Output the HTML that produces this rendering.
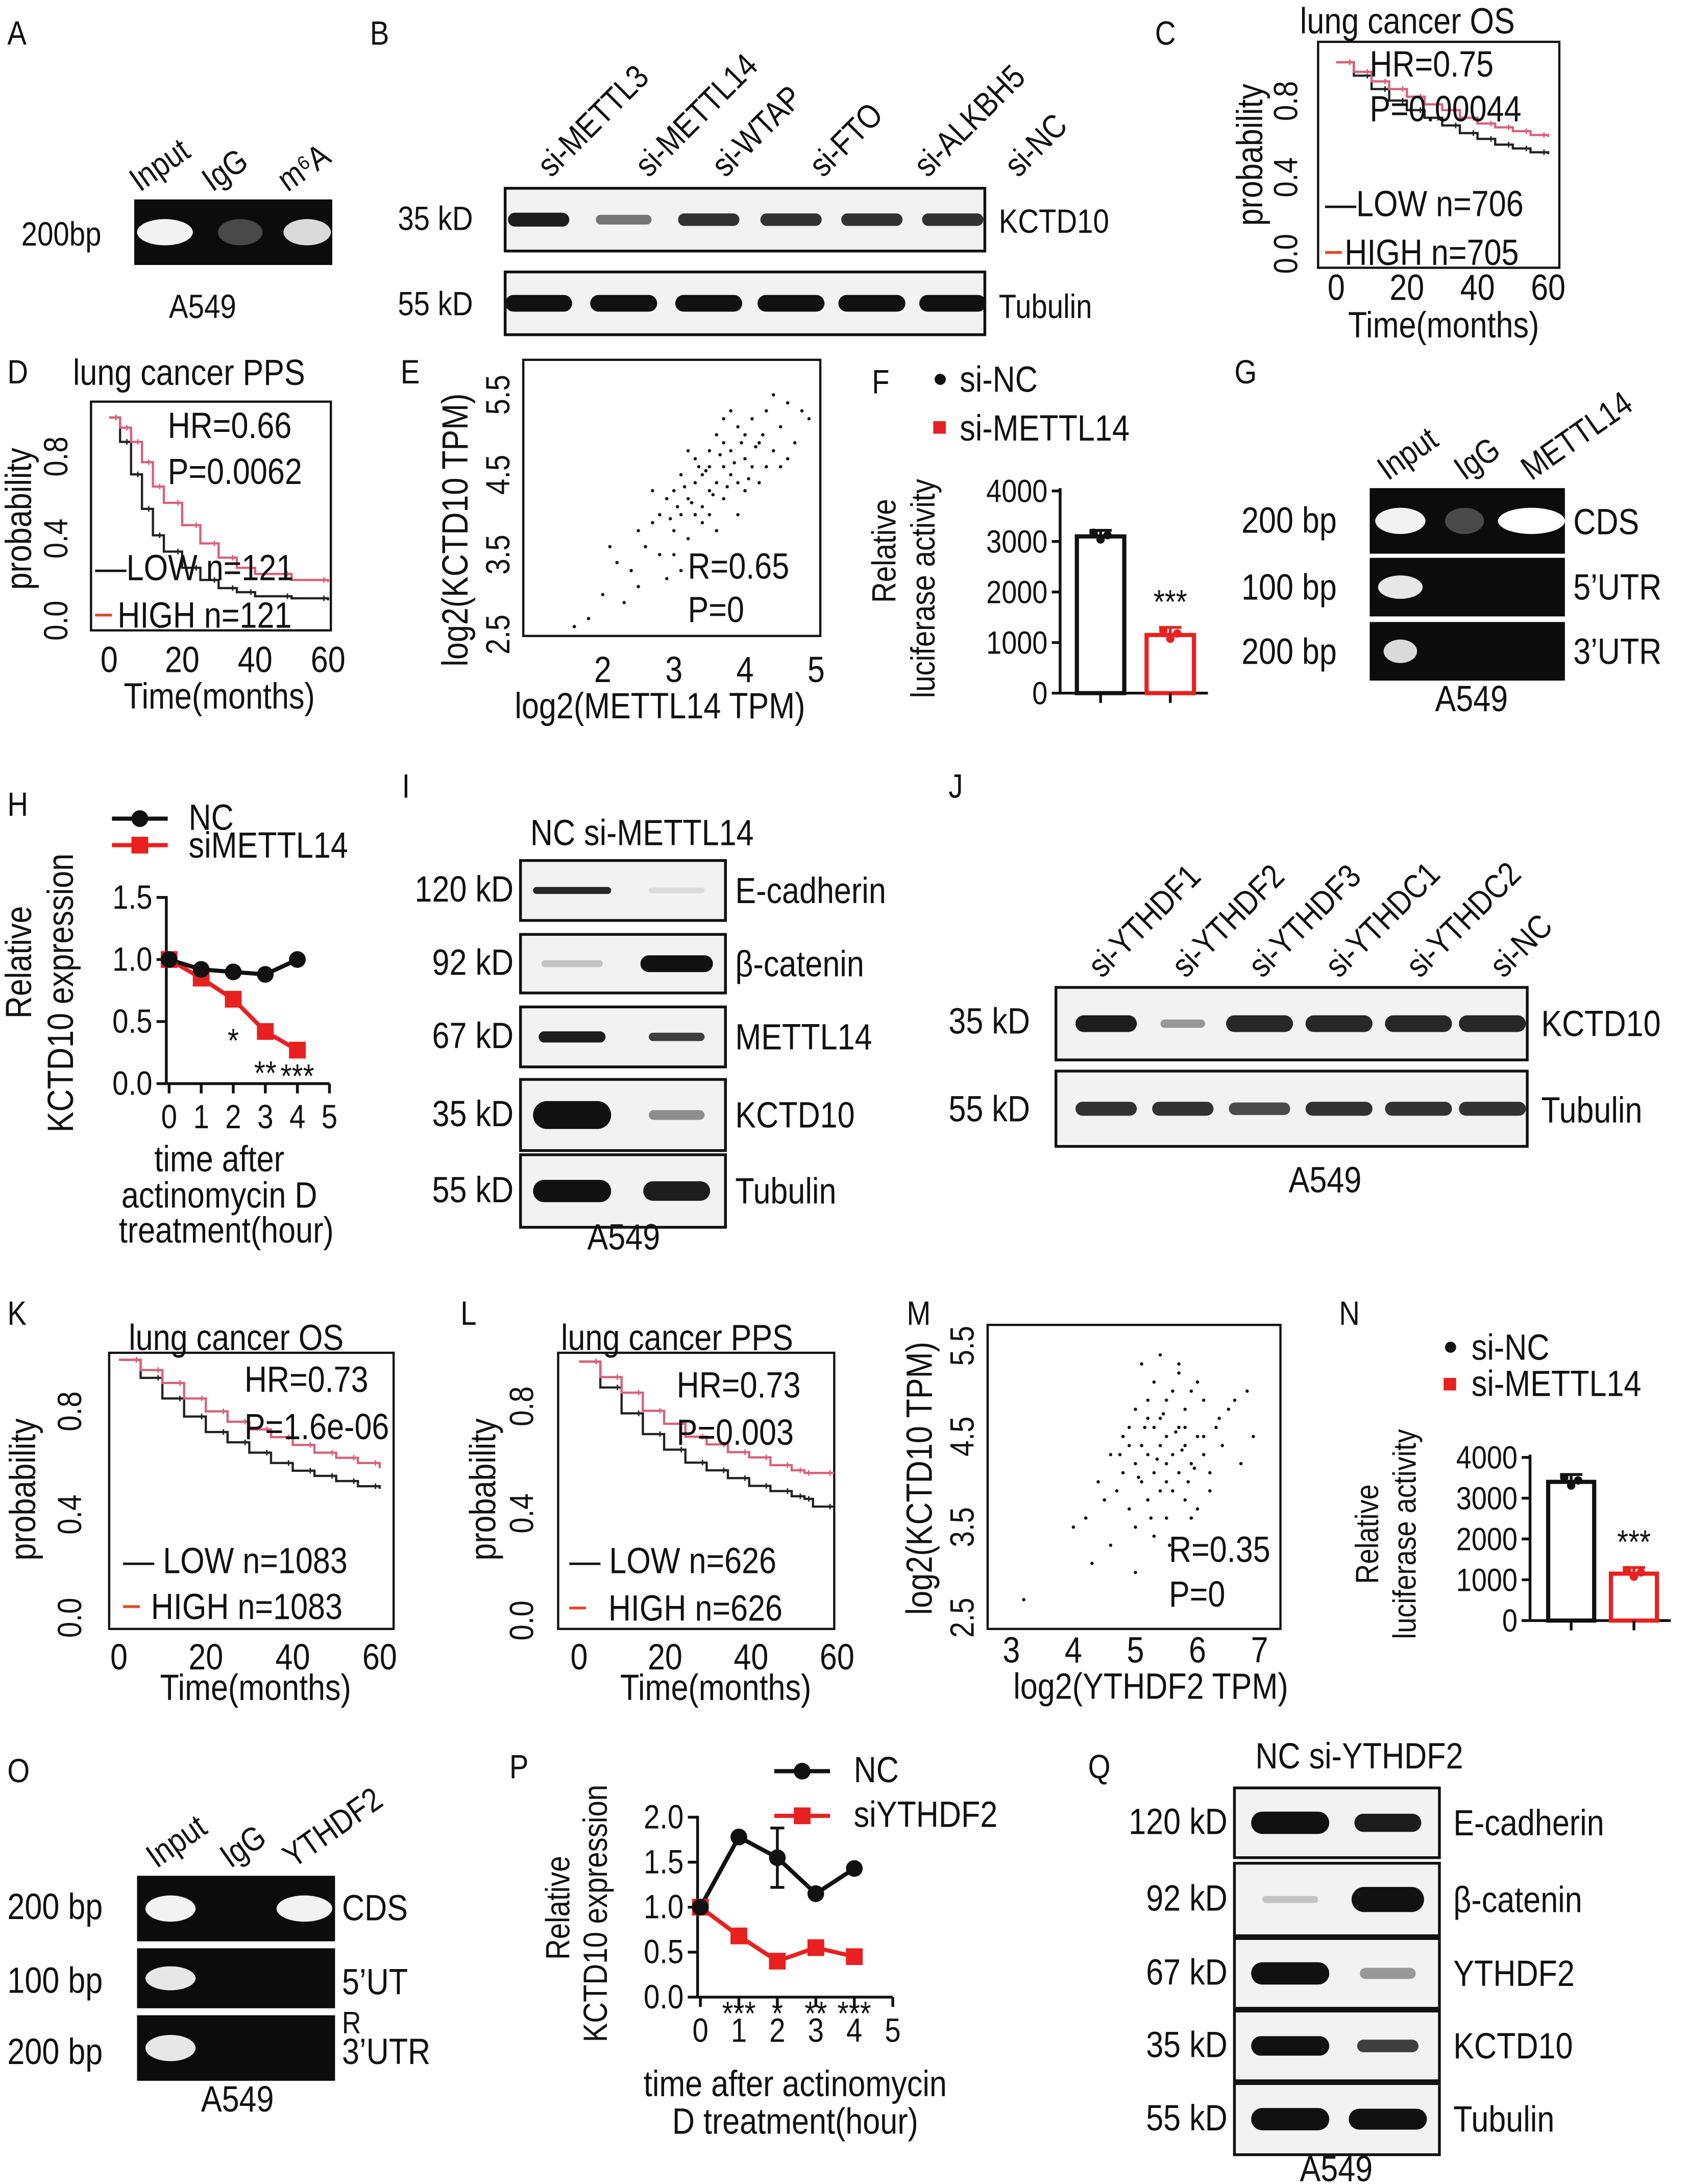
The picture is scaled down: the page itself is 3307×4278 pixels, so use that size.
<!DOCTYPE html>
<html><head><meta charset="utf-8"><title>Figure</title>
<style>
html,body{margin:0;padding:0;background:#fff;}
svg{display:block;}
text{font-family:"Liberation Sans Narrow","Liberation Sans",sans-serif;fill:#111;}
</style></head>
<body>
<svg id="fig" xmlns="http://www.w3.org/2000/svg" width="3307" height="4278" viewBox="0 0 1210 1566">
<rect x="0" y="0" width="1210" height="1566" fill="#fff"/>
</svg>
<script>
// ===== chart data =====
const kmC_t=[0,5,10,15,20,25,30,35,40,45,50,55,60];
const kmC_low=[1,0.93,0.86,0.8,0.75,0.71,0.67,0.63,0.6,0.57,0.55,0.53,0.52];
const kmC_high=[1,0.95,0.9,0.86,0.82,0.78,0.75,0.71,0.68,0.66,0.64,0.62,0.61];
const kmD_t=[0,3,6,9,12,15,20,25,30,35,40,50,60];
const kmD_low=[1,0.88,0.72,0.55,0.42,0.34,0.26,0.2,0.16,0.14,0.12,0.11,0.1];
const kmD_high=[1,0.95,0.88,0.78,0.66,0.58,0.47,0.38,0.31,0.26,0.23,0.2,0.19];
const kmK_t=[0,5,10,15,20,25,30,35,40,45,50,55,60];
const kmK_low=[1,0.93,0.85,0.78,0.72,0.68,0.64,0.6,0.57,0.55,0.53,0.51,0.5];
const kmK_high=[1,0.96,0.91,0.85,0.8,0.76,0.73,0.7,0.67,0.64,0.62,0.6,0.58];
const kmL_t=[0,5,10,15,20,25,30,35,40,45,50,53,55,60];
const kmL_low=[1,0.9,0.8,0.72,0.66,0.61,0.58,0.55,0.52,0.5,0.48,0.47,0.44,0.44];
const kmL_high=[1,0.94,0.88,0.81,0.76,0.71,0.68,0.65,0.63,0.6,0.58,0.57,0.57,0.57];
const scE_x=[2.0,2.2,2.4,2.5,2.6,2.7,2.8,2.8,2.9,3.0,3.0,3.1,3.1,3.2,3.2,3.3,3.3,3.4,3.4,3.5,3.5,3.5,3.6,3.6,3.7,3.7,3.8,3.8,3.9,3.9,4.0,4.0,4.1,4.1,4.2,4.2,4.3,4.4,4.5,4.6,4.7,4.8,3.0,2.9,3.4,3.6,3.2,3.9,4.0,3.3,3.7,4.3,2.5,1.8,2.3,3.5,3.8,4.4,2.7,3.1,3.45,3.55,3.65,3.75,3.85,4.05,4.15,3.25,3.15,2.95,4.25,4.6,4.9,1.6,2.1,3.95,3.35,3.05,4.5,3.7];
const scE_y=[3.0,3.4,3.3,3.8,3.6,3.9,4.0,3.5,4.2,3.8,4.3,4.0,4.5,4.2,3.7,4.4,4.7,4.1,4.5,4.8,4.3,4.6,4.4,5.0,4.6,4.2,4.8,4.5,5.1,4.4,4.7,5.0,4.6,5.2,4.9,4.4,5.3,4.8,5.1,5.4,4.9,5.3,3.5,3.2,3.9,3.8,4.8,4.0,4.3,4.0,5.2,4.6,3.1,2.7,2.9,4.0,5.3,5.5,4.3,3.3,4.55,4.25,4.75,4.35,4.65,4.45,4.85,4.15,4.35,3.95,5.0,4.7,5.2,2.6,3.6,4.9,4.6,4.1,4.6,4.9];
const scM_x=[4.2,4.4,4.5,4.6,4.7,4.8,4.8,4.9,4.9,5.0,5.0,5.0,5.1,5.1,5.2,5.2,5.2,5.3,5.3,5.3,5.4,5.4,5.4,5.5,5.5,5.5,5.5,5.6,5.6,5.6,5.7,5.7,5.7,5.8,5.8,5.8,5.9,5.9,6.0,6.0,6.1,6.1,6.2,6.3,6.4,6.5,6.7,6.9,4.3,4.6,5.0,5.3,5.6,5.9,6.2,5.1,5.4,5.7,6.0,4.9,5.2,5.5,5.8,6.1,5.35,5.65,5.45,5.75,5.05,5.95,6.6,4.0,3.2,6.8,5.25,5.55,5.85,4.75,6.35,5.15];
const scM_y=[3.6,4.0,3.8,4.3,3.9,4.5,4.1,3.7,4.6,4.2,4.8,3.5,4.4,4.0,4.9,4.3,3.8,4.6,4.1,5.1,4.4,3.9,4.7,4.2,4.9,3.6,4.5,4.3,5.0,3.9,4.6,4.1,5.2,4.4,3.8,4.8,4.2,5.0,4.5,3.7,4.3,4.9,4.1,4.6,4.4,4.8,4.2,4.5,3.1,3.3,3.0,3.4,3.2,3.6,3.9,5.3,5.4,5.3,5.1,4.4,4.7,4.0,4.6,4.5,4.25,4.55,4.75,4.35,4.05,4.15,4.9,3.5,2.7,5.0,3.6,3.3,4.0,4.3,4.7,4.6];
const hTime=[0,1,2,3,4];
const hNC=[1.0,0.92,0.9,0.88,1.0];
const hSi=[1.0,0.85,0.68,0.42,0.27];
const hStars=['','','*','**','***'];
const pTime=[0,1,2,3,4];
const pNC=[1.0,1.78,1.55,1.15,1.43];
const pNCerr=[0,0,0.33,0,0];
const pSi=[1.0,0.68,0.4,0.55,0.45];
const pStars=['','***','*','**','***'];
const fGroups=['si-NC','si-METTL14'];
const fVals=[3100,1150];
const fErr=[120,150];
const nVals=[3400,1150];
const nErr=[180,150];
const barTicks=[0,1000,2000,3000,4000];

// ===== helpers =====
const NS='http://www.w3.org/2000/svg';
const svg=document.getElementById('fig');
const SX=0.86;
function el(tag,a,name,parent){
  const e=document.createElementNS(NS,tag);
  for(const k in a) e.setAttribute(k,a[k]);
  
  
  (parent||svg).appendChild(e);
  return e;
}
function tx(x,y,s,size,name,opt){
  opt=opt||{};
  const a={x:0,y:0,'font-size':size};
  if(opt.anchor) a['text-anchor']=opt.anchor;
  let tr='translate('+x+' '+y+')';
  if(opt.rot!==undefined) tr+=' rotate('+opt.rot+')';
  tr+=' scale('+SX+' 1)';
  a.transform=tr;
  if(opt.fill) a.style='fill:'+opt.fill;
  const e=el('text',a,name);
  e.textContent=s;
  return e;
}
function line(x1,y1,x2,y2,name,w,c){return el('line',{x1:x1,y1:y1,x2:x2,y2:y2,stroke:c||'#111','stroke-width':w||2},name);}
function panelLetter(x,y,s){tx(x,y,s,24,'panel-label-'+s.toLowerCase());}

function gel(x,y,w,h,bands,name){
  el('rect',{x:x,y:y,width:w,height:h,fill:'#0c0c0c'},name);
  bands.forEach((b,i)=>{ if(b[2]>0) el('ellipse',{cx:b[0],cy:y+h/2,rx:b[1],ry:h*0.2,fill:'#fff',opacity:b[2]},name+'-band-'+i); });
}
function blot(x,y,w,h,bands,name){
  el('rect',{x:x,y:y,width:w,height:h,fill:'#f2f2f2',stroke:'#111','stroke-width':2},name);
  bands.forEach((b,i)=>{ if(b[2]>0) el('rect',{x:b[0]-b[1],y:y+h/2-b[3]/2,width:2*b[1],height:b[3],rx:b[3]/2,fill:'#111',opacity:b[2]},name+'-band-'+i); });
}

// ===== Panel A =====
panelLetter(5,32,'A');
gel(96,143,142,47,[[118,20,0.95],[172,16,0.25],[220,17,0.85]],'gel-a');
['Input','IgG','m⁶A'].forEach((s,i)=>tx([100,152,206][i],138,s,24,'lane-label-a',{rot:-35}));
tx(15,176,'200bp',24,'size-label-a');
tx(145,228,'A549',24,'cell-label-a',{anchor:'middle'});

// ===== Panel B =====
panelLetter(265,32,'B');
['si-METTL3','si-METTL14','si-WTAP','si-FTO','si-ALKBH5','si-NC'].forEach((s,i)=>tx([395,465,520,590,665,730][i],128,s,24,'lane-label-b',{rot:-45}));
blot(362,135,344,45,[[386,22,0.95,10],[447,20,0.55,7],[508,22,0.85,9],[567,22,0.85,9],[625,22,0.85,9],[683,22,0.85,9]],'blot-b-kctd10');
blot(362,195,344,45,[[386,24,1,12],[447,24,1,12],[508,24,1,12],[567,24,1,12],[625,24,1,12],[683,24,1,12]],'blot-b-tubulin');
tx(285,165,'35 kD',24,'kd-label');tx(285,226,'55 kD',24,'kd-label');
tx(716,167,'KCTD10',24,'protein-label');tx(716,228,'Tubulin',24,'protein-label');

function km(box,xr,yr,t,low,high,name){
  const X=v=>box.x0+(v-xr[0])/(xr[1]-xr[0])*(box.x1-box.x0);
  const Y=v=>box.y0+(1-(v-yr[0])/(yr[1]-yr[0]))*(box.y1-box.y0);
  [[low,'#222','low'],[high,'#d9607a','high']].forEach(s=>{
    let d='M'+X(t[0])+','+Y(s[0][0]);
    for(let i=1;i<t.length;i++){d+=' H'+X(t[i])+' V'+Y(s[0][i]);}
    el('path',{d:d,fill:'none',stroke:s[1],'stroke-width':1.6},name+'-curve-'+s[2]);
    for(let i=1;i<t.length;i++){ el('line',{x1:X(t[i])-3,x2:X(t[i])-3,y1:Y(s[0][i-1])-2,y2:Y(s[0][i-1])+2,stroke:s[1],'stroke-width':1},name+'-censor-'+s[2]); }
  });
  return {X:X,Y:Y};
}

// ===== Panel C =====
panelLetter(828,32,'C');
el('rect',{x:945,y:30,width:173,height:162,fill:'none',stroke:'#111','stroke-width':1.6},'km-c-frame');
km({x0:958,x1:1110,y0:35,y1:182},[0,60],[0,1.07],kmC_t,kmC_low,kmC_high,'km-c');
tx(932,24,'lung cancer  OS',26,'km-c-title');
tx(982,55,'HR=0.75',26,'km-c-hr');tx(982,87,'P=0.00044',26,'km-c-p');
tx(950,155,'—LOW  n=706',26,'legend-low');
line(950,181,962,181,'legend-high-swatch',2,'#e04a2a');
tx(964,190,'HIGH n=705',26,'legend-high');
[0,0.4,0.8].forEach(v=>tx(930,182-v*137,v.toFixed(1),24,'y-tick-c',{rot:-90,anchor:'middle'}));
tx(905,111,'probability',26,'y-axis-title-c',{rot:-90,anchor:'middle'});
[0,20,40,60].forEach(v=>tx(958+v*152/60,215,String(v),26,'x-tick-c',{anchor:'middle'}));
tx(1035,242,'Time(months)',26,'x-axis-title-c',{anchor:'middle'});

// ===== Panel D =====
panelLetter(5,275,'D');
el('rect',{x:65,y:288,width:172,height:164,fill:'none',stroke:'#111','stroke-width':1.6},'km-d-frame');
km({x0:78,x1:235,y0:295,y1:445},[0,60],[0,1.03],kmD_t,kmD_low,kmD_high,'km-d');
tx(52,276,'lung cancer  PPS',26,'km-d-title');
tx(120,314,'HR=0.66',26,'km-d-hr');tx(120,347,'P=0.0062',26,'km-d-p');
tx(68,416,'—LOW  n=121',26,'legend-low');
line(68,441,80,441,'legend-high-swatch',2,'#e04a2a');
tx(84,450,'HIGH n=121',26,'legend-high');
[0,0.4,0.8].forEach(v=>tx(48,445-v*147,v.toFixed(1),24,'y-tick-d',{rot:-90,anchor:'middle'}));
tx(22,372,'probability',26,'y-axis-title-d',{rot:-90,anchor:'middle'});
[0,20,40,60].forEach(v=>tx(78+v*157/60,482,String(v),26,'x-tick-d',{anchor:'middle'}));
tx(157,508,'Time(months)',26,'x-axis-title-d',{anchor:'middle'});

function scatter(xs,ys,X,Y,name){xs.forEach((v,i)=>el('circle',{cx:X(v),cy:Y(ys[i]),r:1.2,fill:'#111'},name+'-point'));}

// ===== Panel E =====
panelLetter(287,275,'E');
el('rect',{x:375,y:258,width:213,height:198,fill:'none',stroke:'#111','stroke-width':1.6},'scatter-e-frame');
scatter(scE_x,scE_y,v=>330+v*51,v=>455-(v-2.5)*57.3,'scatter-e');
[2.5,3.5,4.5,5.5].forEach(v=>tx(365,455-(v-2.5)*57.3,v.toFixed(1),24,'y-tick-e',{rot:-90,anchor:'middle'}));
tx(335,380,'log2(KCTD10 TPM)',26,'y-axis-title-e',{rot:-90,anchor:'middle'});
[2,3,4,5].forEach(v=>tx(330+v*51,489,String(v),26,'x-tick-e',{anchor:'middle'}));
tx(473,515,'log2(METTL14 TPM)',26,'x-axis-title-e',{anchor:'middle'});
tx(493,415,'R=0.65',26,'scatter-e-r');tx(493,446,'P=0',26,'scatter-e-p');

function bars(ax,vals,err,name){
  const Y=v=>ax.y0-(v/4000)*(ax.y0-ax.y4);
  line(ax.x,ax.y4-2,ax.x,ax.y0,name+'-y-axis');
  barTicks.forEach(v=>{line(ax.x-6,Y(v),ax.x,Y(v),name+'-y-tick');tx(ax.x-9,Y(v)+8,String(v),23,name+'-y-tick-label',{anchor:'end'});});
  line(ax.x,ax.y0,ax.bx[1]+ax.bw+10,ax.y0,name+'-x-axis');
  vals.forEach((v,i)=>{
    const c=i==0?'#111':'#e82020';
    el('rect',{x:ax.bx[i],y:Y(v),width:ax.bw,height:ax.y0-Y(v),fill:'#fff',stroke:c,'stroke-width':3},name+'-bar-'+fGroups[i]);
    const cx=ax.bx[i]+ax.bw/2;
    line(cx,Y(v+err[i]),cx,Y(v-err[i]),name+'-errbar',2,c);
    line(cx-8,Y(v+err[i]),cx+8,Y(v+err[i]),name+'-errcap',2,c);
    line(cx,ax.y0,cx,ax.y0+7,name+'-x-tick');
    [-5,0,5].forEach((o,k)=>el('circle',{cx:cx+o,cy:Y(v+[0.6,-0.5,0.2][k]*err[i]),r:3,fill:c},name+'-dot'));
  });
  tx(ax.bx[1]+ax.bw/2,Y(vals[1]+err[1])-10,'***',24,name+'-sig',{anchor:'middle'});
}

// ===== Panel F =====
panelLetter(625,282,'F');
el('circle',{cx:674,cy:272,r:4,fill:'#111'},'legend-si-nc-marker');tx(688,281,'si-NC',26,'legend-si-nc');
el('rect',{x:669,y:302,width:9,height:9,fill:'#e82020'},'legend-si-mettl14-marker');tx(688,316,'si-METTL14',26,'legend-si-mettl14');
bars({x:760,y0:497,y4:352,bx:[772,822],bw:34},fVals,fErr,'bar-f');
tx(642,395,'Relative',24,'y-axis-title-f',{rot:-90,anchor:'middle'});
tx(670,422,'luciferase activity',24,'y-axis-title-f',{rot:-90,anchor:'middle'});

// ===== Panel G =====
panelLetter(885,275,'G');
['Input','IgG','METTL14'].forEach((s,i)=>tx([995,1050,1098][i],345,s,24,'lane-label-g',{rot:-35}));
gel(982,350,140,47,[[1004,18,0.95],[1050,14,0.25],[1098,24,1]],'gel-g-cds');
gel(982,400,140,42,[[1004,16,0.9]],'gel-g-5utr');
gel(982,446,140,42,[[1004,12,0.85]],'gel-g-3utr');
tx(890,382,'200 bp',26,'size-label');tx(890,430,'100 bp',26,'size-label');tx(890,476,'200 bp',26,'size-label');
tx(1128,383,'CDS',26,'region-label');tx(1128,430,'5’UTR',26,'region-label');tx(1128,476,'3’UTR',26,'region-label');
tx(1055,510,'A549',26,'cell-label-g',{anchor:'middle'});

function lineChart(ax,t,nc,si,stars,ncErr,name,ticks){
  const X=v=>ax.x0+v*ax.dx;
  const Y=v=>ax.ybase-v*ax.dy;
  line(ax.x0-2,Y(ticks[ticks.length-1])-1,ax.x0-2,Y(0),name+'-y-axis');
  ticks.forEach(v=>{line(ax.x0-9,Y(v),ax.x0-2,Y(v),name+'-y-tick');tx(ax.x0-12,Y(v)+8,v.toFixed(1),24,name+'-y-tick-label',{anchor:'end'});});
  line(ax.x0-2,Y(0),X(5),Y(0),name+'-x-axis');
  [0,1,2,3,4,5].forEach(v=>{line(X(v),Y(0),X(v),Y(0)+7,name+'-x-tick');tx(X(v),Y(0)+32,String(v),24,name+'-x-tick-label',{anchor:'middle'});});
  el('polyline',{points:t.map((v,i)=>X(v)+','+Y(si[i])).join(' '),fill:'none',stroke:'#e82020','stroke-width':3},name+'-line-si');
  el('polyline',{points:t.map((v,i)=>X(v)+','+Y(nc[i])).join(' '),fill:'none',stroke:'#111','stroke-width':3},name+'-line-nc');
  t.forEach((v,i)=>{
    if(ncErr&&ncErr[i]>0){line(X(v),Y(nc[i]-ncErr[i]),X(v),Y(nc[i]+ncErr[i]),name+'-errbar');line(X(v)-5,Y(nc[i]+ncErr[i]),X(v)+5,Y(nc[i]+ncErr[i]),name+'-errcap');line(X(v)-5,Y(nc[i]-ncErr[i]),X(v)+5,Y(nc[i]-ncErr[i]),name+'-errcap');}
    el('rect',{x:X(v)-6,y:Y(si[i])-6,width:12,height:12,fill:'#e82020'},name+'-point-si');
    el('circle',{cx:X(v),cy:Y(nc[i]),r:6,fill:'#111'},name+'-point-nc');
  });
  return {X:X,Y:Y};
}

// ===== Panel H =====
panelLetter(5,585,'H');
line(80,587,120,587,'legend-nc-line',3);el('circle',{cx:100,cy:587,r:6,fill:'#111'},'legend-nc-marker');tx(135,595,'NC',26,'legend-nc');
line(80,606,120,606,'legend-si-line',3,'#e82020');el('rect',{x:94,y:600,width:12,height:12,fill:'#e82020'},'legend-si-marker');tx(135,615,'siMETTL14',26,'legend-si');
const hAx=lineChart({x0:121,dx:23,ybase:777,dy:89},hTime,hNC,hSi,hStars,null,'line-h',[0,0.5,1.0,1.5]);
hStars.forEach((s,i)=>{ if(s) tx(hAx.X(hTime[i]),hAx.Y(hSi[i])+[0,0,38,38,27][i],s,24,'sig-h',{anchor:'middle'}); });
tx(22,690,'Relative',26,'y-axis-title-h',{rot:-90,anchor:'middle'});
tx(52,712,'KCTD10 expression',26,'y-axis-title-h',{rot:-90,anchor:'middle'});
tx(157,840,'time after',26,'x-axis-title-h',{anchor:'middle'});
tx(157,866,'actinomycin D',26,'x-axis-title-h',{anchor:'middle'});
tx(162,891,'treatment(hour)',26,'x-axis-title-h',{anchor:'middle'});

// ===== Panel I =====
panelLetter(288,572,'I');
tx(380,606,'NC si-METTL14',26,'lane-labels-i');
const iRows=[[617,43,'120 kD','E-cadherin',[[410,28,0.9,5],[485,20,0.1,4]]],[670,42,'92 kD','β-catenin',[[410,22,0.2,5],[485,26,1,12]]],[722,43,'67 kD','METTL14',[[410,24,0.95,8],[485,20,0.8,6]]],[774,51,'35 kD','KCTD10',[[410,28,1,20],[485,20,0.45,7]]],[828,52,'55 kD','Tubulin',[[410,28,1,16],[485,24,0.95,14]]]];
iRows.forEach(r=>{blot(373,r[0],147,r[1],r[4],'blot-i-'+r[3]);tx(368,r[0]+r[1]/2+8,r[2],26,'kd-label',{anchor:'end'});tx(527,r[0]+r[1]/2+9,r[3],26,'protein-label');});
tx(447,896,'A549',26,'cell-label-i',{anchor:'middle'});

// ===== Panel J =====
panelLetter(680,572,'J');
['si-YTHDF1','si-YTHDF2','si-YTHDF3','si-YTHDC1','si-YTHDC2','si-NC'].forEach((s,i)=>tx([790,850,905,960,1018,1078][i],702,s,24,'lane-label-j',{rot:-45}));
blot(757,708,338,52,[[793,22,0.95,12],[848,16,0.4,6],[903,24,0.9,12],[960,24,0.9,12],[1017,24,0.9,12],[1070,24,0.9,12]],'blot-j-kctd10');
blot(757,768,338,54,[[793,22,0.85,10],[848,22,0.85,10],[903,22,0.75,9],[960,24,0.85,10],[1017,24,0.85,10],[1070,24,0.85,10]],'blot-j-tubulin');
tx(680,741,'35 kD',26,'kd-label');tx(680,804,'55 kD',26,'kd-label');
tx(1105,743,'KCTD10',26,'protein-label');tx(1105,805,'Tubulin',26,'protein-label');
tx(950,855,'A549',26,'cell-label-j',{anchor:'middle'});

// ===== Panel K =====
panelLetter(5,950,'K');
el('rect',{x:78,y:970,width:204,height:198,fill:'none',stroke:'#111','stroke-width':1.6},'km-k-frame');
km({x0:85,x1:272,y0:975,y1:1160},[0,60],[0,1.0],kmK_t,kmK_low,kmK_high,'km-k');
tx(92,968,'lung cancer  OS',26,'km-k-title');
tx(175,998,'HR=0.73',26,'km-k-hr');tx(175,1032,'P=1.6e-06',26,'km-k-p');
tx(88,1128,'— LOW  n=1083',26,'legend-low');
line(88,1152,100,1152,'legend-high-swatch',2,'#e04a2a');tx(108,1161,'HIGH n=1083',26,'legend-high');
[0,0.4,0.8].forEach(v=>tx(58,1160-v*185,v.toFixed(1),24,'y-tick-k',{rot:-90,anchor:'middle'}));
tx(25,1068,'probability',26,'y-axis-title-k',{rot:-90,anchor:'middle'});
[0,20,40,60].forEach(v=>tx(85+v*187/60,1197,String(v),26,'x-tick-k',{anchor:'middle'}));
tx(183,1219,'Time(months)',26,'x-axis-title-k',{anchor:'middle'});

// ===== Panel L =====
panelLetter(330,950,'L');
el('rect',{x:400,y:970,width:198,height:198,fill:'none',stroke:'#111','stroke-width':1.6},'km-l-frame');
km({x0:415,x1:598,y0:980,y1:1162},[0,60],[0,0.98],kmL_t,kmL_low,kmL_high,'km-l');
tx(402,968,'lung cancer  PPS',26,'km-l-title');
tx(485,1002,'HR=0.73',26,'km-l-hr');tx(485,1036,'P=0.003',26,'km-l-p');
tx(408,1128,'— LOW  n=626',26,'legend-low');
line(408,1153,420,1153,'legend-high-swatch',2,'#e04a2a');tx(436,1162,'HIGH n=626',26,'legend-high');
[0,0.4,0.8].forEach(v=>tx(382,1162-v*192,v.toFixed(1),24,'y-tick-l',{rot:-90,anchor:'middle'}));
tx(355,1068,'probability',26,'y-axis-title-l',{rot:-90,anchor:'middle'});
[0,20,40,60].forEach(v=>tx(415+v*185/60,1197,String(v),26,'x-tick-l',{anchor:'middle'}));
tx(513,1219,'Time(months)',26,'x-axis-title-l',{anchor:'middle'});

// ===== Panel M =====
panelLetter(650,950,'M');
el('rect',{x:708,y:950,width:210,height:218,fill:'none',stroke:'#111','stroke-width':1.6},'scatter-m-frame');
scatter(scM_x,scM_y,v=>725+(v-3)*44.5,v=>1160-(v-2.5)*65,'scatter-m');
[2.5,3.5,4.5,5.5].forEach(v=>tx(698,1160-(v-2.5)*65,v.toFixed(1),24,'y-tick-m',{rot:-90,anchor:'middle'}));
tx(668,1060,'log2(KCTD10 TPM)',26,'y-axis-title-m',{rot:-90,anchor:'middle'});
[3,4,5,6,7].forEach(v=>tx(725+(v-3)*44.5,1192,String(v),26,'x-tick-m',{anchor:'middle'}));
tx(825,1218,'log2(YTHDF2 TPM)',26,'x-axis-title-m',{anchor:'middle'});
tx(838,1120,'R=0.35',26,'scatter-m-r');tx(838,1152,'P=0',26,'scatter-m-p');

// ===== Panel N =====
panelLetter(960,950,'N');
el('circle',{cx:1040,cy:966,r:4,fill:'#111'},'legend-si-nc-marker');tx(1055,975,'si-NC',26,'legend-si-nc');
el('rect',{x:1035,y:988,width:9,height:9,fill:'#e82020'},'legend-si-mettl14-marker');tx(1055,1001,'si-METTL14',26,'legend-si-mettl14');
bars({x:1097,y0:1162,y4:1045,bx:[1110,1155],bw:33},nVals,nErr,'bar-n');
tx(988,1100,'Relative',23,'y-axis-title-n',{rot:-90,anchor:'middle'});
tx(1015,1100,'luciferase activity',23,'y-axis-title-n',{rot:-90,anchor:'middle'});

// ===== Panel O =====
panelLetter(5,1278,'O');
['Input','IgG','YTHDF2'].forEach((s,i)=>tx([112,165,210][i],1340,s,24,'lane-label-o',{rot:-35}));
gel(98,1345,142,47,[[122,18,0.95],[170,10,0],[218,20,0.95]],'gel-o-cds');
gel(98,1397,142,43,[[122,18,0.9]],'gel-o-5utr');
gel(98,1445,142,47,[[122,18,0.9]],'gel-o-3utr');
tx(5,1376,'200 bp',26,'size-label');tx(5,1429,'100 bp',26,'size-label');tx(5,1480,'200 bp',26,'size-label');
tx(245,1377,'CDS',26,'region-label');tx(245,1430,'5’UT',26,'region-label');tx(245,1458,'R',22,'region-label');tx(245,1480,'3’UTR',26,'region-label');
tx(170,1514,'A549',26,'cell-label-o',{anchor:'middle'});

// ===== Panel P =====
panelLetter(365,1275,'P');
line(555,1270,595,1270,'legend-nc-line',3);el('circle',{cx:575,cy:1270,r:6,fill:'#111'},'legend-nc-marker');tx(612,1278,'NC',26,'legend-nc');
line(555,1302,595,1302,'legend-si-line',3,'#e82020');el('rect',{x:569,y:1296,width:12,height:12,fill:'#e82020'},'legend-si-marker');tx(612,1310,'siYTHDF2',26,'legend-si');
const pAx=lineChart({x0:502,dx:27.6,ybase:1432,dy:64.5},pTime,pNC,pSi,pStars,pNCerr,'line-p',[0,0.5,1.0,1.5,2.0]);
pStars.forEach((s,i)=>{ if(s) tx(pAx.X(pTime[i]),1452,s,24,'sig-p',{anchor:'middle'}); });
tx(408,1368,'Relative',24,'y-axis-title-p',{rot:-90,anchor:'middle'});
tx(435,1372,'KCTD10 expression',24,'y-axis-title-p',{rot:-90,anchor:'middle'});
tx(570,1503,'time after actinomycin',26,'x-axis-title-p',{anchor:'middle'});
tx(570,1530,'D treatment(hour)',26,'x-axis-title-p',{anchor:'middle'});

// ===== Panel Q =====
panelLetter(780,1275,'Q');
tx(900,1268,'NC  si-YTHDF2',26,'lane-labels-q');
const qRows=[[1282,50,'120 kD','E-cadherin',[[925,28,1,16],[995,24,0.95,13]]],[1336,52,'92 kD','β-catenin',[[925,20,0.2,5],[995,26,1,18]]],[1390,50,'67 kD','YTHDF2',[[925,28,1,16],[995,20,0.4,8]]],[1442,50,'35 kD','KCTD10',[[925,28,1,14],[995,22,0.8,9]]],[1494,51,'55 kD','Tubulin',[[925,28,1,16],[995,28,1,15]]]];
qRows.forEach(r=>{blot(885,r[0],147,r[1],r[4],'blot-q-'+r[3]);tx(880,r[0]+r[1]/2+8,r[2],26,'kd-label',{anchor:'end'});tx(1042,r[0]+r[1]/2+9,r[3],26,'protein-label');});
tx(958,1564,'A549',26,'cell-label-q',{anchor:'middle'});
</script>
</body></html>
